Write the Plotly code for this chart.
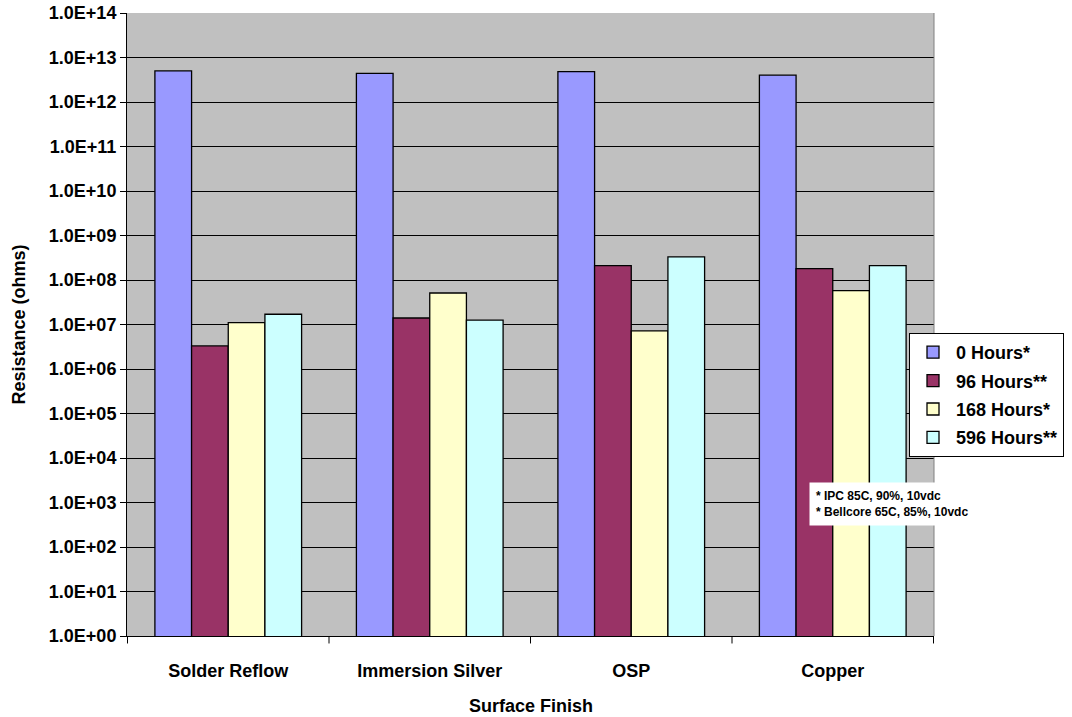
import plotly.graph_objects as go

# Surface finishes tested
finishes = ["Solder Reflow", "Immersion Silver", "OSP", "Copper"]

# Insulation resistance (ohms) after each exposure time
hours_0 = [5.0e12, 4.4e12, 4.8e12, 4.0e12]
hours_96 = [3.3e6, 1.4e7, 2.1e8, 1.8e8]
hours_168 = [1.1e7, 5.1e7, 7.2e6, 5.8e7]
hours_596 = [1.7e7, 1.26e7, 3.3e8, 2.1e8]

series_names = ["0 Hours*", "96 Hours**", "168 Hours*", "596 Hours**"]
series_colors = ["#9999FF", "#993366", "#FFFFCC", "#CCFFFF"]

# Log-axis decade ticks
tick_vals = [10 ** k for k in range(0, 15)]
tick_text = ["1.0E+%02d" % k for k in range(0, 15)]

FONT = "Arial, Liberation Sans, sans-serif"

fig = go.Figure()
for name, vals, col in zip(series_names, [hours_0, hours_96, hours_168, hours_596], series_colors):
    fig.add_trace(go.Bar(
        x=finishes, y=vals, name=name, legendgroup=name,
        marker=dict(color=col, line=dict(color="black", width=1.3)),
    ))

fig.update_layout(
    width=1072, height=717,
    margin=dict(l=127, r=138, t=13, b=81, autoexpand=False),
    paper_bgcolor="white",
    plot_bgcolor="#C0C0C0",
    barmode="group",
    bargap=0.272,
    bargroupgap=0,
    font=dict(family=FONT, size=18, color="black", weight="bold"),
    showlegend=True,
    legend=dict(
        xref="container", yref="container",
        x=909 / 1072, y=1 - 333 / 717, xanchor="left", yanchor="top",
        bgcolor="white", bordercolor="black", borderwidth=1,
        font=dict(family=FONT, size=18, color="black", weight="bold"),
        tracegroupgap=2, itemwidth=36,
    ),
    xaxis=dict(
        automargin=False,
        showline=True, linecolor="black", linewidth=1,
        ticks="outside", ticklen=18, tickcolor="rgba(0,0,0,0)",
        tickfont=dict(size=18, weight="bold"),
    ),
    yaxis=dict(
        automargin=False,
        type="log", range=[0, 14],
        tickvals=tick_vals, ticktext=tick_text,
        tickfont=dict(size=18, weight="bold"),
        ticks="outside", ticklen=6, tickcolor="black",
        showline=True, linecolor="black", linewidth=1,
        showgrid=True, gridcolor="black", gridwidth=1,
        zeroline=False,
    ),
    annotations=[
        dict(
            xref="paper", yref="paper", x=0.845, y=0.247,
            xanchor="left", yanchor="top", align="left",
            text="* IPC 85C, 90%, 10vdc<br>* Bellcore 65C, 85%, 10vdc",
            showarrow=False, bgcolor="white", borderpad=6,
            font=dict(family=FONT, size=12, color="black", weight="bold"),
        ),
        # Axis titles
        dict(
            xref="paper", yref="paper", x=0.5, y=-0.113,
            xanchor="center", yanchor="middle",
            text="Surface Finish", showarrow=False,
            font=dict(family=FONT, size=18, color="black", weight="bold"),
        ),
        dict(
            xref="paper", yref="paper", x=-0.135, y=0.5,
            xanchor="center", yanchor="middle", textangle=-90,
            text="Resistance (ohms)", showarrow=False,
            font=dict(family=FONT, size=18, color="black", weight="bold"),
        ),
    ],
)

# Right border of the plot area and category separator ticks
fig.add_shape(type="line", xref="paper", yref="paper", x0=1, x1=1, y0=0, y1=1,
              line=dict(color="#808080", width=1))
for i in range(len(finishes) + 1):
    fig.add_shape(type="line", xref="x", yref="paper", x0=i - 0.5, x1=i - 0.5,
                  y0=0, y1=-0.012, line=dict(color="black", width=1))

fig.write_html("out.html")
